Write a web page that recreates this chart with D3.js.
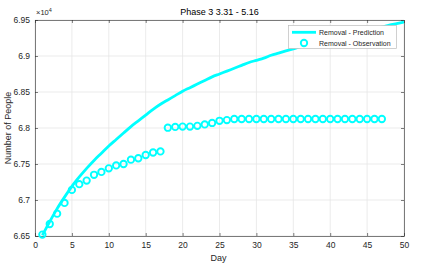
<!DOCTYPE html>
<html><head><meta charset="utf-8">
<script src="https://cdn.jsdelivr.net/npm/d3@7"></script>
<style>body{margin:0;background:#fff}svg{display:block}text{font-family:"Liberation Sans",Arial,sans-serif}</style>
</head><body><svg id="c" width="426" height="266"></svg>
<script>
const predDays = d3.range(1, 51);
const predValues = [66510,66700,66880,67040,67190,67320,67440,67550,67650,67750,
  67840,67930,68020,68100,68180,68260,68330,68390,68450,68510,
  68560,68610,68660,68710,68750,68790,68830,68870,68910,68940,
  68970,69010,69040,69070,69100,69130,69150,69180,69200,69230,
  69260,69280,69310,69330,69360,69380,69400,69430,69450,69470];
const obsDays = d3.range(1, 48);
const obsValues = [66520,66667,66810,66960,67140,67220,67270,67350,67390,67440,
  67480,67500,67560,67580,67625,67660,67675,
  68004,68015,68020,68020,68030,68050,68070,68100,68110,68125,68125,68125,68125,
  68125,68125,68125,68125,68125,68125,68125,68125,68125,68125,
  68125,68125,68125,68125,68125,68125,68125];
const xTicks = d3.range(0, 51, 5);
const yTicks = [66500,67000,67500,68000,68500,69000,69500];
const titleText = "Phase 3 3.31 - 5.16";
const seriesNames = ["Removal - Prediction", "Removal - Observation"];

const svg = d3.select("#c");
const L = 35, R = 404, T = 20, B = 236;
const x = d3.scaleLinear().domain([0, 50]).range([L, R]);
const y = d3.scaleLinear().domain([66500, 69500]).range([B, T]);
const col = "#00ffff", axc = "#262626", grid = "#e6e6e6";

// grid
svg.append("g").selectAll("line.gx").data(xTicks).join("line")
  .attr("x1", d => x(d)).attr("x2", d => x(d)).attr("y1", T).attr("y2", B)
  .attr("stroke", grid).attr("stroke-width", 0.8);
svg.append("g").selectAll("line.gy").data(yTicks).join("line")
  .attr("x1", L).attr("x2", R).attr("y1", d => y(d)).attr("y2", d => y(d))
  .attr("stroke", grid).attr("stroke-width", 0.8);

// axes
const fmtY = d => d3.format("")(+(d / 1e4).toFixed(2));
const gx = svg.append("g").attr("transform", `translate(0,${B})`)
  .call(d3.axisBottom(x).tickValues(xTicks).tickSizeInner(-3).tickSizeOuter(0).tickPadding(6));
const gy = svg.append("g").attr("transform", `translate(${L},0)`)
  .call(d3.axisLeft(y).tickValues(yTicks).tickFormat(fmtY).tickSizeInner(-3).tickSizeOuter(0).tickPadding(5));
const gxt = svg.append("g").attr("transform", `translate(0,${T})`)
  .call(d3.axisTop(x).tickValues(xTicks).tickFormat("").tickSizeInner(-3).tickSizeOuter(0));
const gyr = svg.append("g").attr("transform", `translate(${R},0)`)
  .call(d3.axisRight(y).tickValues(yTicks).tickFormat("").tickSizeInner(-3).tickSizeOuter(0));
[gx, gy, gxt, gyr].forEach(g => {
  g.selectAll("path,line").attr("stroke", axc).attr("stroke-width", 0.6);
  g.selectAll("text").attr("fill", axc).attr("font-size", 8.5).attr("font-family", "Liberation Sans, Arial, sans-serif");
});

// exponent label
const ex = svg.append("text").attr("x", L + 1).attr("y", 15).attr("font-size", 7.5).attr("fill", axc);
ex.append("tspan").text("\u00d710");
ex.append("tspan").attr("dy", -3).attr("font-size", 5.5).text("4");

// title & labels
svg.append("text").attr("x", (L + R) / 2).attr("y", 15).attr("text-anchor", "middle")
  .attr("font-size", 9).attr("fill", "#000").text(titleText);
svg.append("text").attr("x", (L + R) / 2 - 1).attr("y", 261).attr("text-anchor", "middle")
  .attr("font-size", 9).attr("fill", axc).text("Day");
svg.append("text").attr("transform", `translate(11,${(T + B) / 2}) rotate(-90)`).attr("text-anchor", "middle")
  .attr("font-size", 9).attr("fill", axc).text("Number of People");

// clip
svg.append("clipPath").attr("id", "clip").append("rect").attr("x", L).attr("y", T - 2).attr("width", R - L).attr("height", B - T + 4);

// prediction line
const line = d3.line().x((d, i) => x(predDays[i])).y(d => y(d)).curve(d3.curveMonotoneX);
svg.append("path").datum(predValues).attr("d", line).attr("fill", "none")
  .attr("stroke", col).attr("stroke-width", 2.8).attr("clip-path", "url(#clip)");

// observations
svg.append("g").selectAll("circle").data(obsValues).join("circle")
  .attr("cx", (d, i) => x(obsDays[i])).attr("cy", d => y(d)).attr("r", 3.2)
  .attr("fill", "none").attr("stroke", col).attr("stroke-width", 1.9);

// legend
const lg = svg.append("g");
lg.append("rect").attr("x", 288.5).attr("y", 25.5).attr("width", 108).attr("height", 23)
  .attr("fill", "#fff").attr("stroke", "#bcbcbc").attr("stroke-width", 0.7);
lg.append("line").attr("x1", 292).attr("x2", 316).attr("y1", 32.3).attr("y2", 32.3)
  .attr("stroke", col).attr("stroke-width", 2.8);
lg.append("circle").attr("cx", 304).attr("cy", 43).attr("r", 3.2)
  .attr("fill", "none").attr("stroke", col).attr("stroke-width", 1.9);
lg.selectAll("text").data(seriesNames).join("text")
  .attr("x", 319).attr("y", (d, i) => 34.8 + i * 10.8)
  .attr("font-size", 7).attr("fill", axc).text(d => d);
</script></body></html>
